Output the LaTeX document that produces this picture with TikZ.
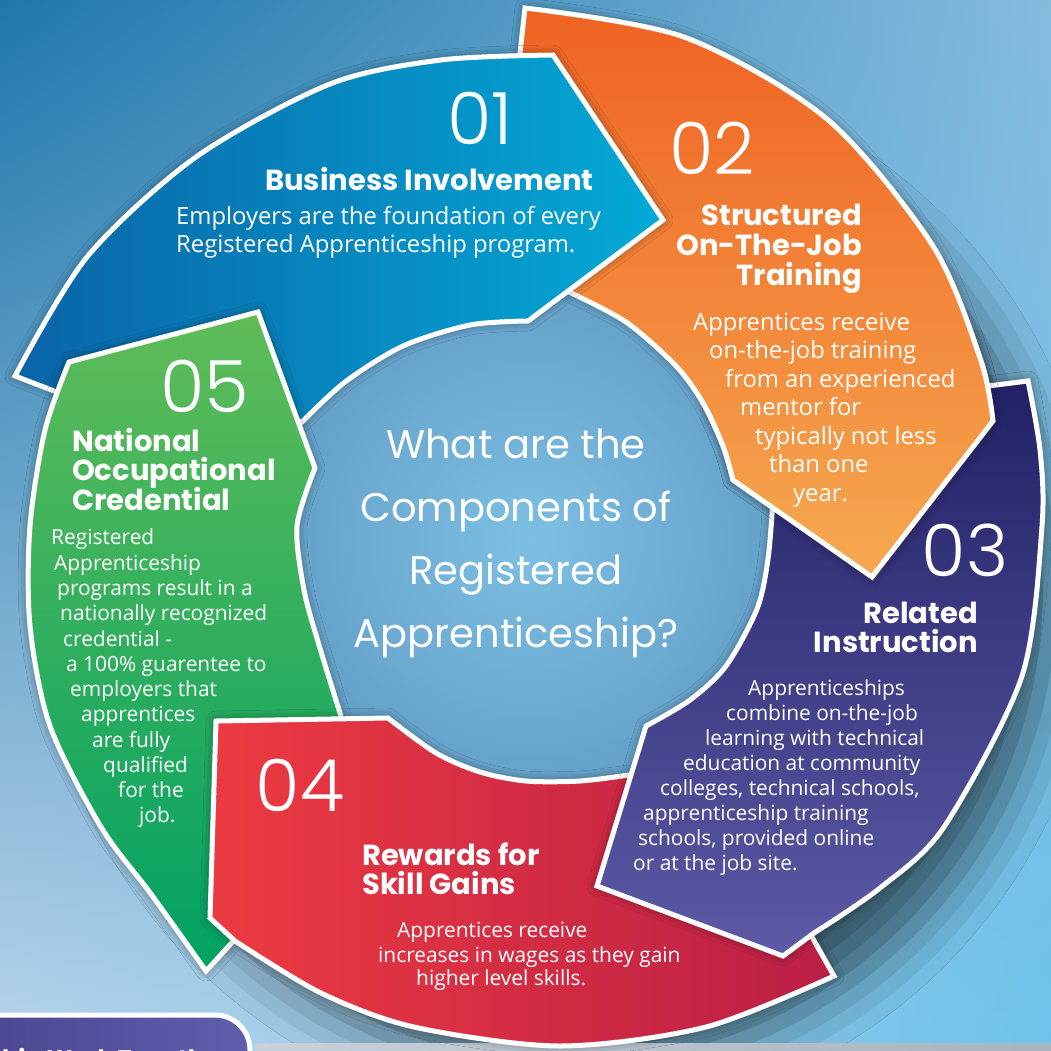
\documentclass[tikz,border=0pt]{standalone}
\usepackage{fontspec}
\setmainfont{Open Sans}
\newfontfamily\headfont{Poppins}
\newfontfamily\numfont{Poppins Light}
\usetikzlibrary{shadings,shadows.blur}

\definecolor{bgTL}{HTML}{1E77AA}
\definecolor{bgTR}{HTML}{86BBDE}
\definecolor{bgBL}{HTML}{B8D4EB}
\definecolor{bgBR}{HTML}{6FC3EA}
\definecolor{diskIn}{HTML}{7DBFE3}
\definecolor{diskOut}{HTML}{639FC8}
\definecolor{blueL}{HTML}{0A64A7}
\definecolor{blueR}{HTML}{03A9D6}
\definecolor{orT}{HTML}{EF6222}
\definecolor{orB}{HTML}{F6A950}
\definecolor{puT}{HTML}{222166}
\definecolor{puB}{HTML}{5D5AA6}
\definecolor{rdL}{HTML}{EC3A41}
\definecolor{rdR}{HTML}{BA1F45}
\definecolor{grT}{HTML}{60BC58}
\definecolor{grB}{HTML}{00A164}
\definecolor{tagL}{HTML}{4A4690}
\definecolor{tagR}{HTML}{5E5EAA}
\definecolor{stripL}{HTML}{C8D1DA}
\definecolor{stripR}{HTML}{A8B3BE}

% ring segments (screen coordinates, y downwards)
\def\blueseg{plot[smooth] coordinates {(15,376) (87,257) (196,157) (330,84) (441,60) (553,55)}
  -- (663,220) -- (528,321)
  -- plot[smooth] coordinates {(528,321) (470,325) (403,346) (345,382) (302,422)}
  -- (180,380) -- (75,399) -- cycle}
\def\orangeseg{plot[smooth] coordinates {(525,8) (684,37) (827,119) (933,246) (981,361) (993,421)}
  -- (872,577) -- (733,480)
  -- plot[smooth] coordinates {(733,480) (723,446) (703,403) (676,366) (626,322) (569,292)}
  -- (600,180) -- (519,62) -- cycle}
\def\purpleseg{plot[smooth] coordinates {(1028,381) (1040,450) (1042,526) (1022,676) (944,827) (880,888) (814,933)}
  -- (783,956) -- (597,886) -- (646,726)
  -- plot[smooth] coordinates {(646,726) (690,700) (726,666) (757,609) (768,559) (773,500)}
  -- (900,480) -- (988,386) -- cycle}
\def\redseg{(216,721) -- (388,718)
  -- plot[smooth] coordinates {(388,718) (436,753) (480,772) (526,781) (580,781) (629,775)}
  -- (700,860) -- (812,937) -- (834,976)
  -- plot[smooth] coordinates {(834,976) (706,1027) (560,1046) (414,1027) (321,993) (235,941)}
  -- (210,918) -- cycle}
\def\greenseg{(69,362) -- (258,312) -- (315,468)
  -- plot[smooth] coordinates {(315,468) (297,526) (304,590) (319,645) (340,713)}
  -- (345,730) -- (280,890) -- (206,971)
  -- plot[smooth] coordinates {(206,971) (151,894) (101,827) (50,726) (30,626) (30,526) (45,430) (69,362)}
  -- cycle}

\tikzset{
  seg/.style={draw=white, line width=5pt, line join=miter,
    blur shadow={shadow xshift=0pt, shadow yshift=0pt, shadow blur radius=10pt, shadow opacity=45}},
  num/.style={text=white, inner sep=0pt, font=\numfont\fontsize{72}{72}\selectfont},
  head/.style={text=white, inner sep=0pt, font=\headfont\bfseries\fontsize{29}{30}\selectfont},
  body/.style={text=white, inner sep=0pt, anchor=base west, font=\fontsize{20.9}{25}\selectfont},
  bigbody/.style={body, font=\fontsize{23.8}{28}\selectfont},
}

\begin{document}
\begin{tikzpicture}[x=1pt, y=-1pt]
  \useasboundingbox (0,0) rectangle (1051,1051);
  \shade[upper left=bgTL, upper right=bgTR, lower left=bgBL, lower right=bgBR] (0,0) rectangle (1051,1051);
  \path[blur shadow={shadow xshift=30pt, shadow yshift=-36pt, shadow blur radius=50pt,
      shadow opacity=55}] (540,555) circle (480);
  \fill[left color=stripL, right color=stripR] (255,1043) rectangle (1051,1051);

  % centre disk
  \shade[inner color=diskIn, outer color=diskOut] (530,540) circle (262);
  \node[text=white, align=center, anchor=base, font=\headfont\fontsize{40}{63}\selectfont] (q) at (516,647)
    {What are the\\Components of\\Registered\\Apprenticeship?};

  % segments
  \draw[seg, top color=orT, bottom color=orB] \orangeseg;
  \draw[seg, left color=blueL, right color=blueR] \blueseg;
  \draw[seg, top color=grT, bottom color=grB] \greenseg;
  \draw[seg, left color=rdL, right color=rdR] \redseg;
  \draw[seg, top color=puT, bottom color=puB] \purpleseg;
  \begin{scope}
    \clip (700,330) rectangle (1051,620);
    \draw[seg, top color=orT, bottom color=orB] \orangeseg;
  \end{scope}

  % 01
  \node[num] (n1) at (480,118) {01};
  \node[head, anchor=base west] (h1) at (265,190) {Business Involvement};
  \foreach \x/\txt [count=\i] in {176/Employers are the foundation of every, 176/Registered Apprenticeship program.}
    \node[bigbody] (b1-\i) at (\x, 196+28*\i) {\txt};

  % 02
  \node[num] (n2) at (712,148) {02};
  \foreach \txt [count=\i] in {Structured, On-The-Job, Training}
    \node[head, anchor=base east] (h2-\i) at (862, 195.5+30*\i) {\txt};
  \foreach \x/\txt [count=\i] in {693/Apprentices receive, 709/on-the-job training, 725/from an experienced,
      740/mentor for, 755/typically not less, 769/than one, 793/year.}
    \node[bigbody] (b2-\i) at (\x, 301.5+28.5*\i) {\txt};

  % 03
  \node[num] (n3) at (965,550) {03};
  \foreach \txt [count=\i] in {Related, Instruction}
    \node[head, anchor=base east] (h3-\i) at (978, 594.5+29*\i) {\txt};
  \foreach \x/\txt [count=\i] in {748/Apprenticeships, 726/combine on-the-job, 705/learning with technical,
      683/education at community, 660/{colleges, technical schools,}, 643/apprenticeship training,
      638/{schools, provided online}, 633/or at the job site.}
    \node[body] (b3-\i) at (\x, 670+25.1*\i) {\txt};

  % 04
  \node[num] (n4) at (300,785) {04};
  \foreach \txt [count=\i] in {Rewards for, Skill Gains}
    \node[head, anchor=base west] (h4-\i) at (362, 836+29*\i) {\txt};
  \foreach \x/\y/\txt [count=\i] in {397/937/Apprentices receive, 378/962/increases in wages as they gain,
      416/985/higher level skills.}
    \node[body] (b4-\i) at (\x,\y) {\txt};

  % 05
  \node[num] (n5) at (205,386) {05};
  \foreach \txt [count=\i] in {National, Occupational, Credential}
    \node[head, anchor=base west] (h5-\i) at (72, 421.5+29.5*\i) {\txt};
  \foreach \x/\txt [count=\i] in {51/Registered, 54/Apprenticeship, 57/programs result in a,
      60/nationally recognized, 63/credential -, 66/a 100\% guarentee to, 70/employers that,
      81/apprentices, 92/are fully, 103/qualified, 118/for the, 139/job.}
    \node[body] (b5-\i) at (\x, 519.7+25.27*\i) {\txt};

  % bottom tab
  \draw[white, line width=5pt, left color=tagL, right color=tagR, rounded corners=35pt] (-40,1015) rectangle (250,1110);
  \node[text=white, inner sep=0pt, anchor=base west, font=\headfont\bfseries\fontsize{24}{24}\selectfont] (tag) at (2,1067) {hip Work Together};
\end{tikzpicture}
\end{document}
